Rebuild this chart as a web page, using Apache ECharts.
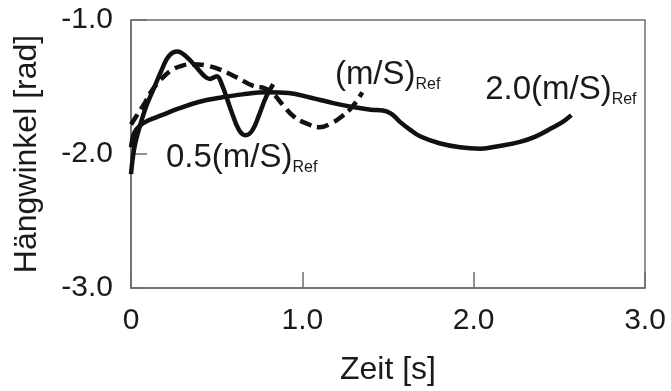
<!DOCTYPE html>
<html>
<head>
<meta charset="utf-8">
<script src="https://cdn.jsdelivr.net/npm/echarts@6/dist/echarts.min.js"></script>
<style>html,body{margin:0;padding:0;background:#fff}#c{width:671px;height:391px}</style>
</head>
<body>
<div id="c"></div>
<script>
// Tick labels
const xTicks = [0, 1, 2, 3];
const yTicks = [-3, -2, -1];

// 0.5 (m/S)Ref
const t05 = [0.00, 0.02, 0.05, 0.09, 0.13, 0.18, 0.22, 0.27, 0.32, 0.38, 0.43, 0.46, 0.50, 0.53, 0.58, 0.63, 0.67, 0.71, 0.75, 0.79, 0.83];
const a05 = [-2.15, -1.95, -1.80, -1.64, -1.52, -1.37, -1.27, -1.235, -1.27, -1.35, -1.42, -1.44, -1.42, -1.48, -1.66, -1.82, -1.86, -1.82, -1.70, -1.57, -1.48];

// (m/S)Ref  (dashed)
const t10 = [0.00, 0.04, 0.08, 0.12, 0.17, 0.23, 0.30, 0.36, 0.44, 0.52, 0.62, 0.71, 0.78, 0.83, 0.89, 0.95, 1.02, 1.10, 1.17, 1.23, 1.29, 1.35];
const a10 = [-1.78, -1.70, -1.62, -1.53, -1.45, -1.38, -1.34, -1.33, -1.34, -1.37, -1.43, -1.49, -1.51, -1.55, -1.64, -1.72, -1.77, -1.80, -1.77, -1.72, -1.65, -1.54];

// 2.0 (m/S)Ref
const t20 = [0.00, 0.02, 0.05, 0.10, 0.18, 0.28, 0.40, 0.52, 0.65, 0.80, 0.92, 1.05, 1.18, 1.30, 1.40, 1.47, 1.52, 1.57, 1.63, 1.69, 1.80, 1.92, 2.04, 2.15, 2.27, 2.36, 2.45, 2.52, 2.57];
const a20 = [-1.95, -1.84, -1.79, -1.75, -1.71, -1.66, -1.61, -1.58, -1.555, -1.54, -1.545, -1.58, -1.62, -1.65, -1.67, -1.675, -1.70, -1.76, -1.82, -1.87, -1.92, -1.95, -1.96, -1.94, -1.91, -1.87, -1.81, -1.76, -1.71];

// Label texts and anchors (data coords)
const labelPre = ['0.5(m/S)', '(m/S)', '2.0(m/S)'];
const labelSub = ['Ref', 'Ref', 'Ref'];
const labelAt = [[0.204, -2.03], [1.19, -1.41], [2.067, -1.52]];

const FONT = "'Liberation Sans', Arial, sans-serif";
const TXT = '#1a1a1a';

function pairs(t, a) { return t.map((v, i) => [v, a[i]]); }

function mark(i) {
  return {
    silent: true,
    symbol: 'circle',
    symbolSize: 0,
    data: [{
      coord: labelAt[i],
      label: {
        show: true,
        position: 'right',
        distance: 0,
        formatter: '{m|' + labelPre[i] + '}{r|' + labelSub[i] + '}',
        rich: {
          m: { fontSize: 33, fontFamily: FONT, color: TXT, lineHeight: 36 },
          r: { fontSize: 16, fontFamily: FONT, color: TXT, verticalAlign: 'bottom', lineHeight: 16 }
        }
      }
    }]
  };
}

const chart = echarts.init(document.getElementById('c'), null, { renderer: 'canvas' });
const fmt = v => (v === 0 ? '0' : v.toFixed(1));

chart.setOption({
  animation: false,
  backgroundColor: '#fff',
  grid: { left: 131, right: 26, top: 20, bottom: 99, show: true, borderColor: '#6e6e6e', borderWidth: 1.5, backgroundColor: 'transparent' },
  xAxis: {
    type: 'value', min: xTicks[0], max: xTicks[xTicks.length - 1], interval: 1,
    name: 'Zeit [s]', nameLocation: 'middle', nameGap: 66,
    nameTextStyle: { fontSize: 32, fontFamily: FONT, color: TXT },
    axisLine: { show: true, lineStyle: { color: '#6e6e6e', width: 1.5 } },
    axisTick: { show: true, inside: true, length: 16, lineStyle: { color: '#6e6e6e', width: 1.5 } },
    axisLabel: { fontSize: 30, fontFamily: FONT, color: TXT, margin: 18, formatter: fmt },
    splitLine: { show: false }
  },
  yAxis: {
    type: 'value', min: yTicks[0], max: yTicks[yTicks.length - 1], interval: 1,
    name: 'Hängwinkel [rad]', nameLocation: 'middle', nameGap: 88,
    nameTextStyle: { fontSize: 32, fontFamily: FONT, color: TXT },
    axisLine: { show: true, lineStyle: { color: '#6e6e6e', width: 1.5 } },
    axisTick: { show: true, inside: true, length: 16, lineStyle: { color: '#6e6e6e', width: 1.5 } },
    axisLabel: { fontSize: 30, fontFamily: FONT, color: TXT, margin: 18, formatter: fmt },
    splitLine: { show: false }
  },
  series: [
    { name: '0.5', type: 'line', data: pairs(t05, a05), smooth: 0.4, showSymbol: false, lineStyle: { color: '#111', width: 4.5 }, markPoint: mark(0) },
    { name: '1.0', type: 'line', data: pairs(t10, a10), smooth: 0.4, showSymbol: false, lineStyle: { color: '#111', width: 4.5, type: [12, 6] }, markPoint: mark(1) },
    { name: '2.0', type: 'line', data: pairs(t20, a20), smooth: 0.4, showSymbol: false, lineStyle: { color: '#111', width: 4.5 }, markPoint: mark(2) }
  ]
});
</script>
</body>
</html>
